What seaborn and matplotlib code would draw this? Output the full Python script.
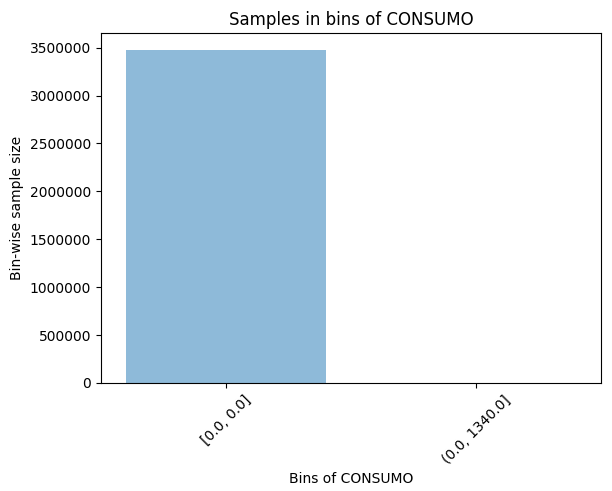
import matplotlib
matplotlib.use("Agg")
import matplotlib.pyplot as plt
import seaborn as sns
import pandas as pd

bins = ["[0.0, 0.0]", "(0.0, 1340.0]"]
counts = [3480000, 3000]

df = pd.DataFrame({"bin": bins, "count": counts})

fig = plt.figure(figsize=(6.12, 4.91), dpi=100)
ax = fig.add_axes([0.165, 0.22, 0.817, 0.713])
sns.barplot(data=df, x="bin", y="count", color="tab:blue", alpha=0.5,
            saturation=1, width=0.8, ax=ax)
ax.set_title("Samples in bins of CONSUMO", fontsize=12)
ax.set_xlabel("Bins of CONSUMO")
ax.set_ylabel("Bin-wise sample size")
ax.ticklabel_format(axis="y", style="plain")
plt.setp(ax.get_xticklabels(), rotation=45)
fig.savefig("out.png", dpi=100)
